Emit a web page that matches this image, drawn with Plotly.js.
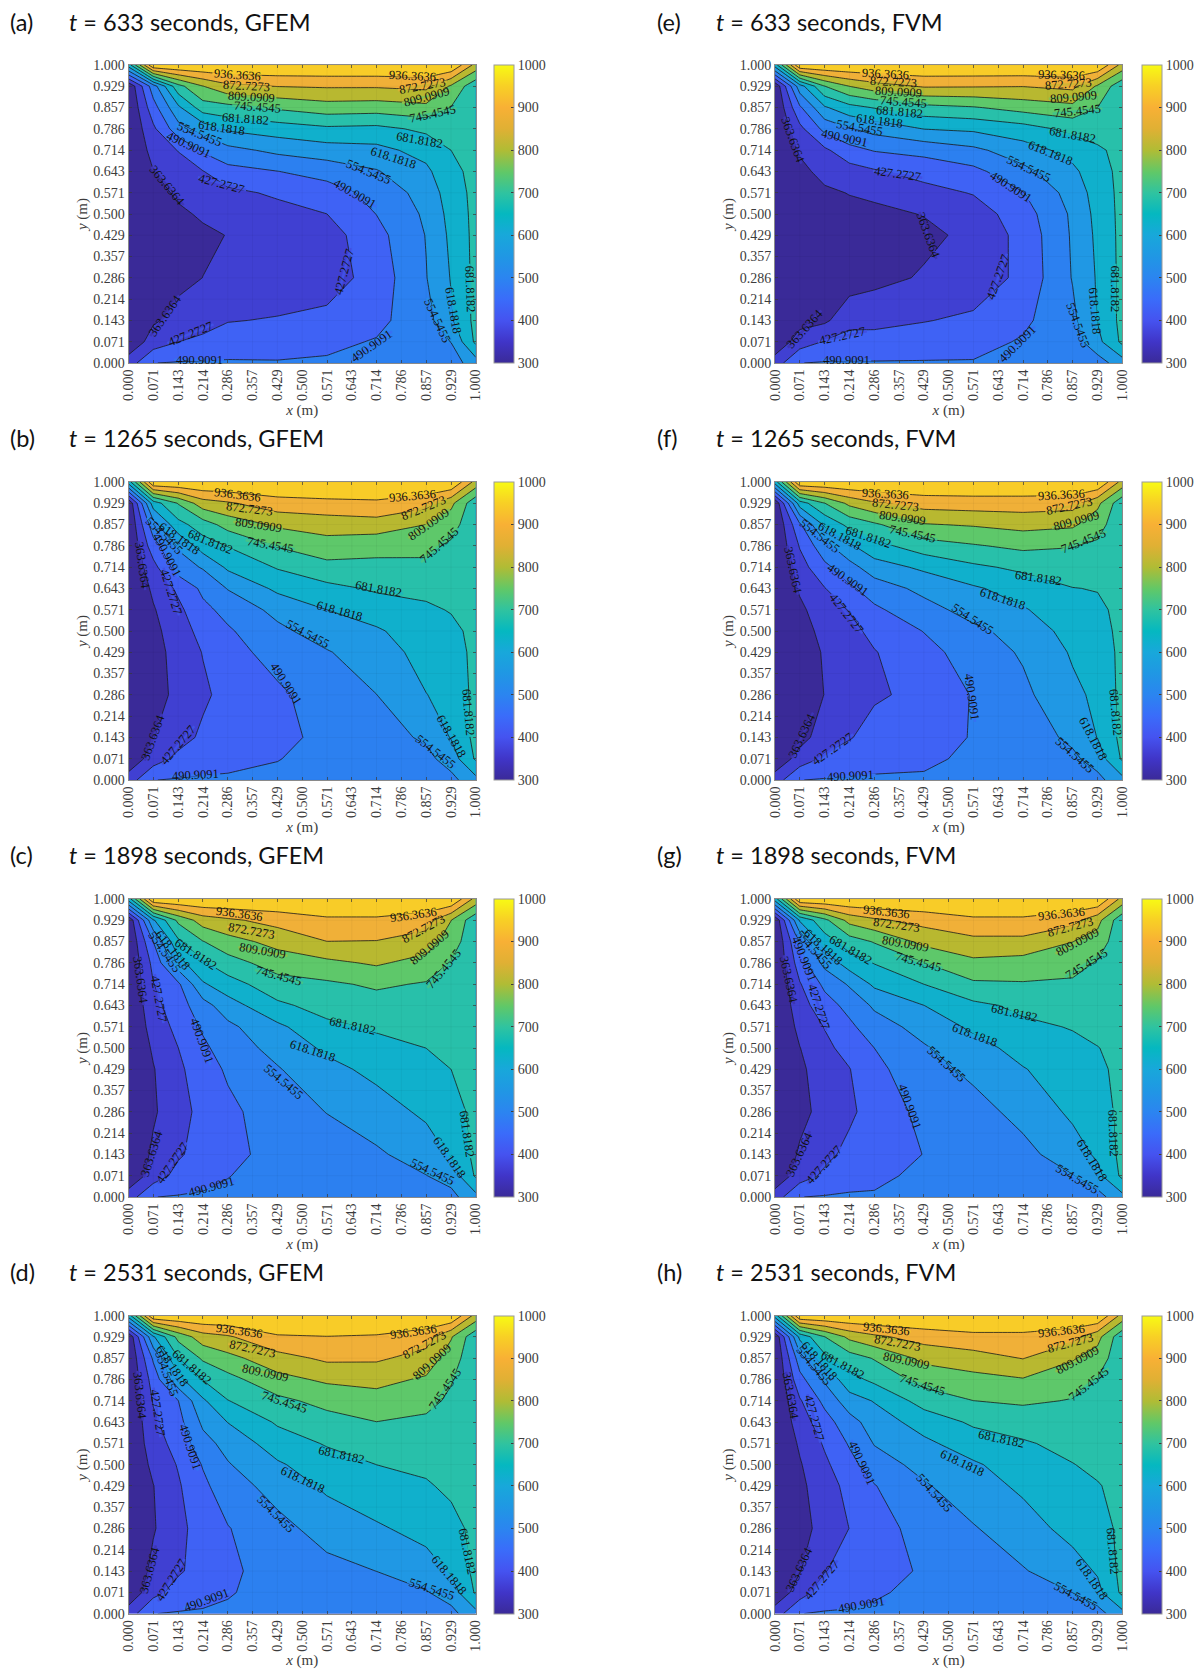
<!DOCTYPE html>
<html><head><meta charset="utf-8">
<script src="https://cdn.plot.ly/plotly-3.0.1.min.js"></script>
<style>html,body{margin:0;padding:0;background:#fff}</style></head>
<body><div id="chart" style="width:1197px;height:1669px"></div>
<script>
// grid nodes that the values were read at
const xNodes=[0,0.071,0.143,0.214,0.286,0.429,0.571,0.714,0.857,0.929,1];
// every column below lists its values from the top of the plot downward, at these heights
const yNodesTopDown=[1,0.929,0.857,0.786,0.714,0.643,0.571,0.5,0.429,0.286,0.143,0.071,0];
const tickLabels=['0.000','0.071','0.143','0.214','0.286','0.357','0.429','0.500','0.571','0.643','0.714','0.786','0.857','0.929','1.000'];
const tickValues=[0,1/14,2/14,3/14,4/14,5/14,6/14,7/14,8/14,9/14,10/14,11/14,12/14,13/14,1];
const barTicks=[300,400,500,600,700,800,900,1000];
const levelLabels=['363.6364','427.2727','490.9091','554.5455','618.1818','681.8182','745.4545','809.0909','872.7273','936.3636'];

const tempA=[
[650,310,300,300,300,300,300,300,300,300,305,315,395],
[1000,525,465,415,385,362,345,335,330,330,355,392,490],
[1000,725,605,530,430,395,372,355,345,347,385,427,495],
[1000,808,715,580,500,425,390,370,355,364,405,440,497],
[1000,858,725,628,535,470,412,385,365,372,424,460,497],
[1000,875,755,650,570,490,437,405,390,385,432,465,495],
[1000,880,780,670,590,515,462,427,400,395,445,478,498],
[1000,880,775,665,600,550,512,492,470,455,475,495,515],
[1000,890,790,695,640,605,580,565,557,552,530,520,525],
[1000,800,743,710,682,665,650,640,632,622,610,556,522],
[850,700,700,700,700,700,700,700,700,700,700,695,590]];
const tempB=[
[650,310,300,300,300,300,300,300,300,300,305,315,395],
[1000,650,530,464,405,375,358,348,342,338,362,395,490],
[1000,750,660,563,525,440,412,395,385,380,400,445,495],
[1000,845,715,650,560,505,475,450,430,415,440,470,497],
[1000,865,770,685,630,558,510,483,465,450,458,478,497],
[1000,910,820,750,687,632,573,540,518,478,476,490,497],
[1000,920,835,785,725,665,618,585,550,525,505,500,505],
[1000,925,845,765,730,690,650,610,590,554,525,515,515],
[1000,895,809,762,732,700,670,655,640,617,565,535,525],
[1000,825,770,735,725,700,686,665,650,635,622,585,535],
[850,700,700,700,700,700,700,700,700,700,700,690,600]];
const tempC=[
[650,310,300,300,300,300,300,300,300,300,305,315,395],
[1000,610,491,445,425,408,390,372,360,355,375,392,490],
[1000,760,670,595,480,462,445,427,415,405,418,450,495],
[1000,840,743,675,610,530,500,478,462,445,455,475,497],
[1000,862,785,720,655,590,540,522,500,476,475,490,497],
[1000,895,830,775,720,670,605,575,550,525,510,503,500],
[1000,925,872,795,735,705,668,630,600,556,525,510,505],
[1000,925,870,818,755,720,690,662,635,590,545,525,515],
[1000,900,845,785,740,708,690,682,665,630,585,553,530],
[1000,810,775,742,735,720,705,695,682,655,625,580,535],
[850,700,700,700,700,700,700,700,700,700,700,690,600]];
const tempD=[
[650,310,300,300,300,300,300,300,300,300,305,315,395],
[1000,610,500,455,432,415,400,380,362,358,380,405,490],
[1000,765,680,600,490,470,450,432,420,410,418,455,495],
[1000,845,755,685,608,567,533,495,478,455,455,472,497],
[1000,865,790,725,680,620,575,550,525,488,480,488,497],
[1000,930,848,790,730,690,650,610,580,535,515,505,500],
[1000,935,885,820,765,722,687,655,630,580,535,515,505],
[1000,930,882,830,782,745,715,682,660,610,555,530,515],
[1000,900,850,800,762,735,715,695,675,640,590,550,530],
[1000,815,775,750,735,725,715,703,695,660,625,585,535],
[850,700,700,700,700,700,700,700,700,700,700,690,600]];
const tempE=[
[650,310,300,300,300,300,300,300,300,300,305,315,395],
[1000,590,480,410,372,345,330,320,315,315,340,395,490],
[1000,745,610,510,415,385,352,335,320,322,352,432,495],
[1000,810,660,550,470,400,366,345,330,332,405,455,495],
[1000,845,685,577,495,420,375,350,335,345,410,450,495],
[1000,880,725,620,510,451,405,366,350,370,424,462,495],
[1000,878,740,630,540,474,431,395,378,385,440,470,495],
[1000,875,770,655,590,537,488,462,448,445,478,497,510],
[1000,890,790,700,640,605,580,565,562,558,540,522,525],
[1000,800,745,710,672,655,645,638,632,625,622,600,525],
[850,700,700,700,700,700,700,700,700,700,700,695,590]];
const tempF=[
[650,310,300,300,300,300,300,300,300,300,305,315,395],
[1000,650,480,432,400,372,350,338,330,328,340,390,490],
[1000,745,630,535,475,425,400,382,370,365,395,440,495],
[1000,825,700,608,530,480,430,408,392,385,422,460,497],
[1000,865,735,660,590,520,480,445,424,418,455,475,497],
[1000,900,805,717,630,573,530,493,470,445,462,482,497],
[1000,905,815,740,670,610,580,540,520,495,495,500,505],
[1000,905,830,760,695,645,612,580,562,540,515,510,510],
[1000,900,820,748,720,680,660,642,625,605,570,540,525],
[1000,825,770,735,715,685,668,655,640,630,620,585,535],
[850,700,700,700,700,700,700,700,700,700,700,690,600]];
const tempG=[
[650,310,300,300,300,300,300,300,300,300,305,315,395],
[1000,625,500,460,422,400,380,362,352,345,372,395,490],
[1000,730,650,575,505,465,430,412,395,385,410,440,495],
[1000,830,715,650,562,510,478,450,425,415,445,470,497],
[1000,862,750,685,630,565,525,491,475,455,465,482,495],
[1000,895,827,745,682,618,578,548,530,507,492,500,500],
[1000,925,855,795,735,668,630,595,570,530,510,505,503],
[1000,925,855,785,740,695,670,640,615,575,535,520,515],
[1000,895,810,770,735,700,685,668,650,630,590,552,530],
[1000,830,780,740,725,712,700,680,668,650,628,600,530],
[850,700,700,700,700,700,700,700,700,700,700,695,600]];
const tempH=[
[650,310,300,300,300,300,300,300,300,300,305,315,395],
[1000,635,525,470,420,395,372,358,350,342,360,395,490],
[1000,745,665,565,508,465,435,415,398,385,425,462,495],
[1000,825,715,660,590,530,497,470,447,428,445,470,497],
[1000,860,750,697,622,585,558,525,488,465,470,488,495],
[1000,900,825,770,708,645,605,575,548,515,497,497,497],
[1000,920,845,790,745,692,650,610,590,550,520,510,505],
[1000,920,875,805,755,710,675,650,630,590,550,530,515],
[1000,895,815,772,742,720,700,680,665,640,590,555,530],
[1000,830,780,742,730,717,705,695,678,650,625,600,530],
[850,700,700,700,700,700,700,700,700,700,700,695,600]];

// contour labels: level index, x, y, angle
const labelsA=[[9,.313,.966,4],[9,.819,.963,3],[8,.34,.93,3],[8,.846,.93,-10],[7,.354,.894,3],[7,.857,.894,-15],[6,.37,.858,4],[6,.874,.837,-12],[5,.337,.818,4],[5,.837,.748,10],[4,.269,.789,8],[4,.764,.689,18],[3,.203,.768,22],[3,.692,.641,22],[2,.173,.731,25],[2,.652,.566,30],[2,.203,.011,0],[2,.7,.058,-35],[1,.269,.602,15],[1,.621,.305,-75],[1,.178,.098,-22],[0,.112,.594,50],[0,.104,.159,-55],[5,.984,.249,88],[4,.936,.176,80],[3,.89,.142,65]];
const labelsB=[[9,.315,.955,7],[9,.819,.952,-5],[8,.348,.908,7],[8,.85,.914,-22],[7,.373,.855,8],[7,.865,.86,-35],[6,.408,.79,10],[6,.896,.787,-42],[5,.236,.8,22],[5,.72,.64,10],[4,.148,.81,35],[4,.608,.567,15],[3,.104,.82,45],[3,.516,.489,28],[2,.11,.754,62],[2,.453,.321,57],[2,.192,.016,-3],[1,.123,.632,72],[1,.143,.116,-50],[0,.038,.72,82],[0,.071,.144,-70],[5,.978,.228,85],[4,.929,.148,60],[3,.885,.094,38]];
const labelsC=[[9,.319,.951,8],[9,.821,.948,-8],[8,.354,.893,10],[8,.849,.9,-28],[7,.387,.824,10],[7,.868,.839,-40],[6,.433,.74,15],[6,.907,.766,-50],[5,.192,.814,33],[5,.646,.573,12],[4,.126,.828,50],[4,.531,.489,18],[3,.104,.822,55],[3,.447,.386,40],[2,.211,.523,70],[2,.238,.034,-15],[1,.088,.666,80],[1,.126,.114,-55],[0,.033,.727,82],[0,.066,.145,-72],[5,.975,.213,82],[4,.923,.134,55],[3,.876,.084,25]];
const labelsD=[[9,.319,.95,8],[9,.821,.944,-8],[8,.357,.888,12],[8,.852,.901,-28],[7,.393,.809,12],[7,.874,.843,-42],[6,.448,.711,18],[6,.912,.753,-55],[5,.181,.826,40],[5,.613,.533,12],[4,.126,.832,55],[4,.502,.447,25],[3,.11,.804,70],[3,.423,.333,45],[2,.178,.56,72],[2,.225,.047,-20],[1,.082,.675,82],[1,.123,.112,-58],[0,.033,.731,84],[0,.06,.148,-75],[5,.975,.21,78],[4,.923,.131,50],[3,.871,.081,18]];
const labelsE=[[9,.317,.97,3],[9,.824,.966,2],[8,.342,.942,3],[8,.846,.935,-4],[7,.355,.908,3],[7,.86,.894,-5],[6,.369,.877,4],[6,.871,.845,-6],[5,.358,.841,5],[5,.857,.765,10],[4,.301,.813,7],[4,.793,.705,22],[3,.244,.787,10],[3,.731,.65,25],[2,.199,.755,12],[2,.679,.589,33],[2,.205,.01,0],[2,.698,.064,-45],[1,.353,.633,8],[1,.643,.288,-70],[1,.194,.089,-12],[0,.051,.748,70],[0,.44,.428,70],[0,.085,.114,-48],[5,.98,.249,90],[4,.922,.176,85],[3,.871,.126,70]];
const labelsF=[[9,.317,.961,3],[9,.824,.955,-3],[8,.347,.922,6],[8,.849,.918,-12],[7,.367,.88,8],[7,.867,.868,-15],[6,.397,.824,12],[6,.889,.802,-22],[5,.268,.817,18],[5,.758,.679,8],[4,.185,.818,28],[4,.656,.606,18],[3,.128,.818,38],[3,.568,.539,33],[2,.21,.67,35],[2,.566,.278,82],[2,.218,.013,-3],[1,.207,.558,52],[1,.166,.105,-35],[0,.051,.704,78],[0,.079,.15,-65],[5,.98,.228,85],[4,.917,.139,62],[3,.862,.083,42]];
const labelsG=[[9,.32,.956,6],[9,.824,.951,-6],[8,.35,.912,8],[8,.851,.906,-15],[7,.377,.85,10],[7,.871,.856,-28],[6,.413,.79,15],[6,.897,.783,-32],[5,.218,.828,30],[5,.689,.619,12],[4,.139,.84,42],[4,.574,.542,20],[3,.112,.828,48],[3,.493,.447,42],[2,.084,.8,68],[2,.388,.302,70],[1,.126,.637,72],[1,.141,.106,-48],[0,.04,.729,78],[0,.07,.145,-65],[5,.974,.215,88],[4,.911,.123,58],[3,.87,.062,30]];
const labelsH=[[9,.32,.955,6],[9,.824,.95,-6],[8,.353,.907,10],[8,.851,.907,-15],[7,.38,.849,12],[7,.871,.851,-28],[6,.426,.768,18],[6,.904,.772,-38],[5,.194,.833,28],[5,.652,.587,12],[4,.128,.849,48],[4,.539,.507,25],[3,.112,.83,50],[3,.459,.406,48],[2,.251,.507,65],[2,.249,.028,-10],[1,.112,.655,75],[1,.134,.114,-50],[0,.044,.729,80],[0,.068,.148,-65],[5,.972,.21,85],[4,.911,.115,55],[3,.865,.058,28]];

const panelTags=['(a)','(b)','(c)','(d)','(e)','(f)','(g)','(h)'];
const panelTimes=[633,1265,1898,2531,633,1265,1898,2531];
const panelMethods=['GFEM','GFEM','GFEM','GFEM','FVM','FVM','FVM','FVM'];
const panelTemps=[tempA,tempB,tempC,tempD,tempE,tempF,tempG,tempH];
const panelLabels=[labelsA,labelsB,labelsC,labelsD,labelsE,labelsF,labelsG,labelsH];

const W=1197,H=1669;
const rowTop=[65,482,899,1315.6], plotH=298;
const colLeft=[128.7,775.7], plotW=347.5;
const barLeft=[493.7,1141.7], barW=19.5;
const tagX=[8,656], titleX=[67,715];
const titleY=[22,438,855,1272];
const parula=[[0,'#3a2a98'],[0.071,'#4035c8'],[0.143,'#4553f0'],[0.214,'#3a6cfa'],[0.286,'#2b85f0'],[0.357,'#2097e4'],[0.43,'#18a8da'],[0.5,'#05b8c0'],[0.57,'#2fc3a0'],[0.64,'#60c868'],[0.714,'#b0bc35'],[0.786,'#e0b034'],[0.857,'#f8b035'],[0.93,'#f8d025'],[1,'#f8fa14']];
// colour of each filled band between contour levels, lowest first
const bandColors=['#3a2a98','#4040d2','#3f62f5','#2c80f0','#2098e4','#10b0cc','#28c0aa','#5ec86a','#b8b830','#f0b038','#f8cc28'];
const bandScale=bandColors.map((col,k)=>[k/10,col]);
const serif='"Liberation Serif","Times New Roman",serif';
const grey='#3c3c3c';
const yAsc=yNodesTopDown.slice().reverse();

function hexMix(a,b){
  const p=h=>[1,3,5].map(s=>parseInt(h.substr(s,2),16));
  const ca=p(a),cb=p(b);
  return 'rgb('+ca.map((v,q)=>Math.round((v+cb[q])/2)).join(',')+')';
}

const traces=[],annotations=[],shapes=[],layout={width:W,height:H,margin:{l:0,r:0,t:0,b:0},paper_bgcolor:'#fff',plot_bgcolor:'#fff',showlegend:false};
panelTemps.forEach((cols,i)=>{
  const c=i<4?0:1,r=i%4,id=i===0?'':String(i+1);
  const n=yNodesTopDown.length;
  const z=yAsc.map((_,j)=>cols.map(col=>col[n-1-j]));
  const dx=[colLeft[c]/W,(colLeft[c]+plotW)/W];
  const dy=[1-(rowTop[r]+plotH)/H,1-rowTop[r]/H];
  // this trace only supplies the continuous colour bar; the contour bands cover it
  traces.push({type:'heatmap',x:xNodes,y:yAsc,z:z,xaxis:'x'+id,yaxis:'y'+id,zauto:false,zmin:300,zmax:1000,colorscale:parula,hoverinfo:'skip',
    colorbar:{x:barLeft[c]/W,xanchor:'left',xpad:0,ypad:0,y:dy[0],yanchor:'bottom',lenmode:'fraction',len:plotH/H,
      thicknessmode:'pixels',thickness:barW,tickvals:barTicks,ticktext:barTicks.map(String),ticks:'inside',ticklen:3,tickcolor:grey,
      tickfont:{family:serif,size:14,color:grey},outlinecolor:'#9a9a9a',outlinewidth:1,borderwidth:0}});
  traces.push({type:'contour',x:xNodes,y:yAsc,z:z,xaxis:'x'+id,yaxis:'y'+id,showscale:false,autocontour:false,colorscale:bandScale,
    contours:{coloring:'fill',start:300+700/11,end:300+700*10/11+0.01,size:700/11,showlabels:false},
    line:{color:'#1a1a1a',width:0.8,smoothing:0},hoverinfo:'skip'});
  const ax={tickvals:tickValues,ticktext:tickLabels,ticks:'inside',ticklen:3,tickcolor:grey,tickwidth:0.7,
    tickfont:{family:serif,size:14,color:grey},showline:true,mirror:'ticks',linecolor:'#8a8a8a',linewidth:1,showgrid:false,zeroline:false,range:[0,1]};
  layout['xaxis'+id]=Object.assign({},ax,{domain:dx,anchor:'y'+id,tickangle:-90,
    title:{text:'<i>x</i> (m)',font:{family:serif,size:15,color:grey},standoff:4}});
  layout['yaxis'+id]=Object.assign({},ax,{domain:dy,anchor:'x'+id,
    title:{text:'<i>y</i> (m)',font:{family:serif,size:15,color:grey},standoff:2}});
  tickValues.forEach(v=>{
    shapes.push({type:'line',xref:'x'+id,yref:'y'+id,x0:v,x1:v,y0:0,y1:1,line:{color:'rgba(0,0,0,0.06)',width:0.7},layer:'above'});
    shapes.push({type:'line',xref:'x'+id,yref:'y'+id,x0:0,x1:1,y0:v,y1:v,line:{color:'rgba(0,0,0,0.06)',width:0.7},layer:'above'});
  });
  panelLabels[i].forEach(l=>{
    // open a gap in the contour line behind each label
    const a=l[3]*Math.PI/180,hw=25;
    const ex=hw*Math.cos(a)/plotW,ey=hw*Math.sin(a)/plotH;
    shapes.push({type:'line',xref:'x'+id,yref:'y'+id,x0:l[1]-ex,x1:l[1]+ex,y0:l[2]+ey,y1:l[2]-ey,
      line:{color:hexMix(bandColors[l[0]],bandColors[l[0]+1]),width:2.5},layer:'above'});
    annotations.push({xref:'x'+id,yref:'y'+id,x:l[1],y:l[2],text:levelLabels[l[0]],textangle:l[3],showarrow:false,
      xanchor:'center',yanchor:'middle',borderpad:0,font:{family:serif,size:12.5,color:'#111'}});
  });
  annotations.push({xref:'paper',yref:'paper',x:tagX[c]/W,y:1-titleY[r]/H,xanchor:'left',yanchor:'middle',showarrow:false,
    text:panelTags[i],font:{family:'Lato, sans-serif',size:23.5,color:'#111'}});
  annotations.push({xref:'paper',yref:'paper',x:titleX[c]/W,y:1-titleY[r]/H,xanchor:'left',yanchor:'middle',showarrow:false,
    text:'<i>t</i> = '+panelTimes[i]+' seconds, '+panelMethods[i],font:{family:'Lato, sans-serif',size:23.5,color:'#111'}});
});
layout.annotations=annotations;
layout.shapes=shapes;
Plotly.newPlot('chart',traces,layout,{displayModeBar:false,staticPlot:true});
</script></body></html>
